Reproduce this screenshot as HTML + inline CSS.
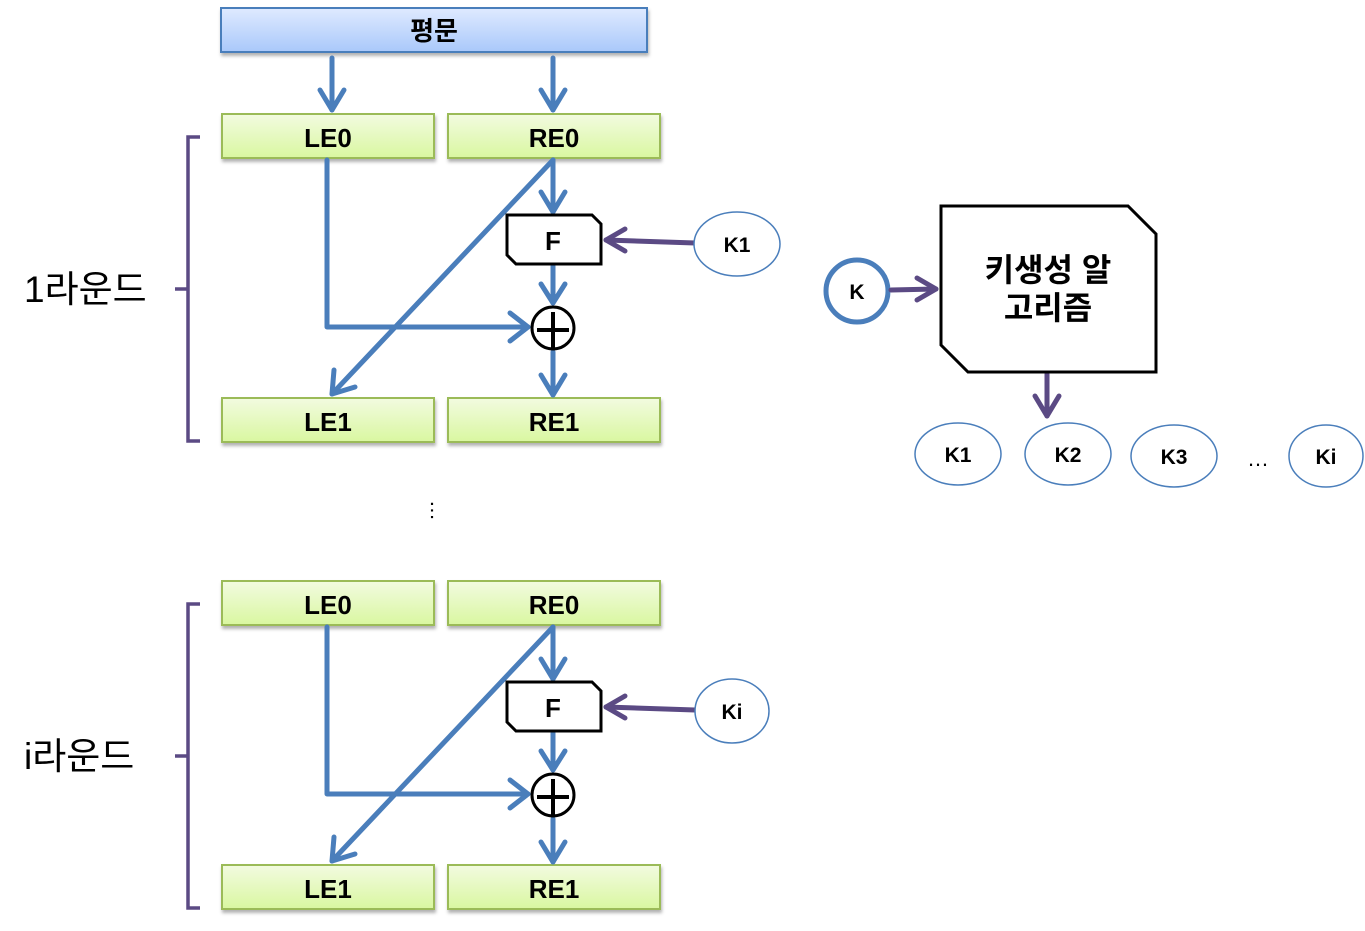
<!DOCTYPE html>
<html><head><meta charset="utf-8"><style>
html,body{margin:0;padding:0;background:#fff;}
svg{display:block;}
text{font-family:"Liberation Sans","Noto Sans CJK KR","NanumGothic",sans-serif;}
.b{font-weight:bold;font-size:26px;text-anchor:middle;fill:#000;}
.k{font-weight:bold;font-size:21px;text-anchor:middle;fill:#000;}
</style></head><body>
<svg width="1365" height="931" viewBox="0 0 1365 931" xmlns="http://www.w3.org/2000/svg">
<defs>
<linearGradient id="gb" x1="0" y1="0" x2="0" y2="1"><stop offset="0" stop-color="#dfeaff"/><stop offset="1" stop-color="#a9c8fa"/></linearGradient>
<linearGradient id="gg" x1="0" y1="0" x2="0" y2="1"><stop offset="0" stop-color="#f2fbe0"/><stop offset="1" stop-color="#d9f7a0"/></linearGradient>
<filter id="sh" x="-5%" y="-10%" width="110%" height="130%"><feDropShadow dx="1" dy="3" stdDeviation="1.5" flood-color="#000" flood-opacity="0.3"/></filter>
<g id="round">
  <rect x="222" y="114" width="212" height="44" fill="url(#gg)" stroke="#9bbb59" stroke-width="2" filter="url(#sh)"/>
  <rect x="448" y="114" width="212" height="44" fill="url(#gg)" stroke="#9bbb59" stroke-width="2" filter="url(#sh)"/>
  <text class="b" x="328" y="147">LE0</text>
  <text class="b" x="554" y="147">RE0</text>
  <rect x="222" y="398" width="212" height="44" fill="url(#gg)" stroke="#9bbb59" stroke-width="2" filter="url(#sh)"/>
  <rect x="448" y="398" width="212" height="44" fill="url(#gg)" stroke="#9bbb59" stroke-width="2" filter="url(#sh)"/>
  <text class="b" x="328" y="431">LE1</text>
  <text class="b" x="554" y="431">RE1</text>
  <g stroke="#4a7ebb" stroke-width="5" fill="none" stroke-linecap="round" stroke-linejoin="round">
    <polyline points="327,160 327,327 528,327"/>
    <polyline points="510,313 528,327 510,341"/>
    <line x1="553" y1="160" x2="553" y2="212"/>
    <polyline points="541,192 553,212 565,192"/>
    <line x1="553" y1="266" x2="553" y2="303"/>
    <polyline points="541,284 553,303 565,284"/>
    <line x1="553" y1="352" x2="553" y2="395"/>
    <polyline points="541,375 553,395 565,375"/>
    <line x1="553" y1="160" x2="332" y2="394"/>
    <polyline points="334,370 332,394 355,387"/>
  </g>
  <polygon points="507,215 592,215 601,224 601,264 516,264 507,255" fill="#fff" stroke="#000" stroke-width="3"/>
  <text class="b" x="553" y="250">F</text>
  <circle cx="553" cy="328" r="21" fill="#fff" stroke="#000" stroke-width="3"/>
  <line x1="537" y1="330" x2="569" y2="330" stroke="#000" stroke-width="4"/>
  <line x1="553" y1="312" x2="553" y2="348" stroke="#000" stroke-width="4"/>
  <g stroke="#5b4a84" stroke-width="5" fill="none" stroke-linecap="round" stroke-linejoin="round">
    <line x1="695" y1="243" x2="606" y2="240"/>
    <polyline points="625,229 606,240 625,251"/>
  </g>
</g>
</defs>
<rect x="221" y="8" width="426" height="44" fill="url(#gb)" stroke="#4a7ebb" stroke-width="2" filter="url(#sh)"/>
<text class="b" x="434" y="40">평문</text>
<g stroke="#4a7ebb" stroke-width="5" fill="none" stroke-linecap="round" stroke-linejoin="round">
  <line x1="332" y1="58" x2="332" y2="110"/><polyline points="320,90 332,110 344,90"/>
  <line x1="553" y1="58" x2="553" y2="110"/><polyline points="541,90 553,110 565,90"/>
</g>
<use href="#round"/>
<use href="#round" transform="translate(0,467)"/>
<ellipse cx="737" cy="244" rx="43" ry="32" fill="#fff" stroke="#4a7ebb" stroke-width="1.5"/>
<text class="k" x="737" y="252">K1</text>
<ellipse cx="732" cy="711" rx="37" ry="32" fill="#fff" stroke="#4a7ebb" stroke-width="1.5"/>
<text class="k" x="732" y="719">Ki</text>
<g stroke="#5b4a84" stroke-width="3.5" fill="none">
  <polyline points="200,137 188,137 188,441 200,441"/>
  <line x1="175" y1="289" x2="188" y2="289"/>
  <polyline points="200,604 188,604 188,908 200,908"/>
  <line x1="175" y1="756" x2="188" y2="756"/>
</g>
<text x="24" y="302" font-size="37" fill="#000">1라운드</text>
<text x="24" y="769" font-size="37" fill="#000">i라운드</text>
<text x="432" y="518" font-size="22" text-anchor="middle" fill="#000" transform="rotate(0)">⋮</text>
<circle cx="857" cy="291" r="31" fill="#fff" stroke="#4a7ebb" stroke-width="5"/>
<text class="k" x="857" y="299">K</text>
<g stroke="#5b4a84" stroke-width="5" fill="none" stroke-linecap="round" stroke-linejoin="round">
  <line x1="891" y1="290" x2="936" y2="289"/><polyline points="917,278 936,289 917,300"/>
  <line x1="1047" y1="374" x2="1047" y2="416"/><polyline points="1035,396 1047,416 1059,396"/>
</g>
<polygon points="941,206 1128,206 1156,234 1156,372 968,372 941,345" fill="#fff" stroke="#000" stroke-width="3"/>
<text x="1048" y="281" font-size="32" font-weight="bold" text-anchor="middle">키생성 알</text>
<text x="1048" y="319" font-size="32" font-weight="bold" text-anchor="middle">고리즘</text>
<g fill="#fff" stroke="#4a7ebb" stroke-width="1.5">
  <ellipse cx="958" cy="454" rx="43" ry="31"/>
  <ellipse cx="1068" cy="454" rx="43" ry="31"/>
  <ellipse cx="1174" cy="456" rx="43" ry="31"/>
  <ellipse cx="1326" cy="456" rx="37" ry="31"/>
</g>
<text class="k" x="958" y="462">K1</text>
<text class="k" x="1068" y="462">K2</text>
<text class="k" x="1174" y="464">K3</text>
<text class="k" x="1326" y="464">Ki</text>
<text x="1258" y="466" font-size="22" text-anchor="middle">…</text>
</svg>
</body></html>
